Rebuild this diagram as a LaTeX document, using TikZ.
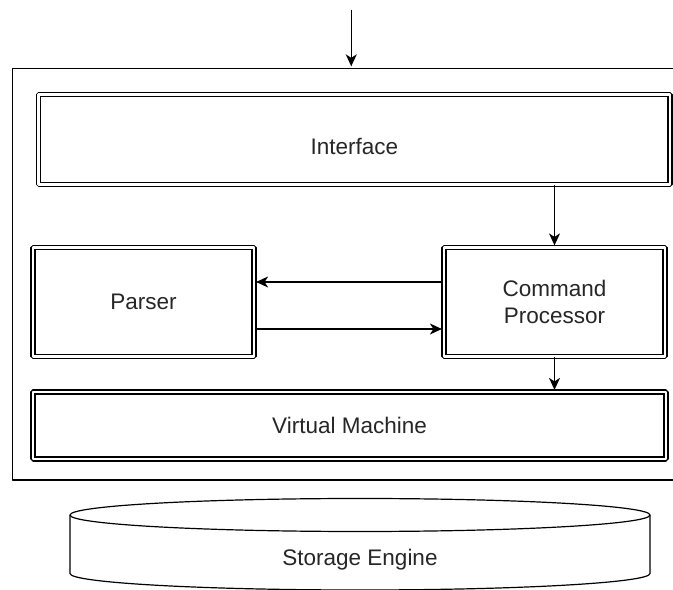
\documentclass[tikz,border=0pt]{standalone}
\usepackage{fontspec}
\setmainfont{Liberation Sans}
\usetikzlibrary{arrows.meta}
\begin{document}
\begin{tikzpicture}[>={Stealth[length=12bp,width=11bp,inset=3.5bp]},line join=bevel,
  block/.style={draw,double,double distance=2.8bp,line width=1.2bp,inner sep=0pt,align=center,
    text=black!85,font=\fontsize{22.5bp}{27bp}\selectfont},
  flow/.style={->,line width=1.3bp,shorten >=1.5bp}]
%%
\useasboundingbox (0bp,0bp) rectangle (673bp,590bp);
\clip (0bp,0bp) rectangle (673bp,590bp);
\node (frame) at (351.25bp,315.75bp) [draw,line width=1.3bp,minimum width=677.5bp,minimum height=411.5bp] {};
\coordinate (entry) at (351.25bp,580bp);
%
\node (iface) at (354.3bp,450.3bp) [block,minimum width=631.3bp,minimum height=90bp] {\raisebox{-15bp}[0pt][0pt]{Interface}};
\node (parser) at (143.5bp,288bp) [block,minimum width=221bp,minimum height=109bp] {Parser};
\node (cmd) at (554.5bp,288bp) [block,minimum width=221bp,minimum height=109bp] {Command\\Processor};
\node (vm) at (349.5bp,164.5bp) [block,minimum width=633bp,minimum height=67bp] {Virtual Machine};
%
\draw [flow] (entry) -- (frame.north);
\draw [flow] (cmd.north |- iface.south) -- (cmd.north);
\draw [flow] ([yshift=20bp]cmd.west) -- ([yshift=20bp]cmd.west -| parser.east);
\draw [flow] ([yshift=-27bp]parser.east) -- ([yshift=-27bp]parser.east -| cmd.west);
\draw [flow] (cmd.south) -- (cmd.south |- vm.north);
%% storage engine drum
\node (store) at (360bp,30bp) [text=black!85,font=\fontsize{22.5bp}{27bp}\selectfont] {Storage Engine};
\draw [line width=1.2bp] (360bp,75bp) ellipse [x radius=290bp,y radius=16.5bp];
\draw [line width=1.2bp] (70bp,75bp) -- (70bp,16.5bp) arc [start angle=180,end angle=360,x radius=290bp,y radius=16.5bp] -- (650bp,75bp);
%
\end{tikzpicture}
\end{document}
